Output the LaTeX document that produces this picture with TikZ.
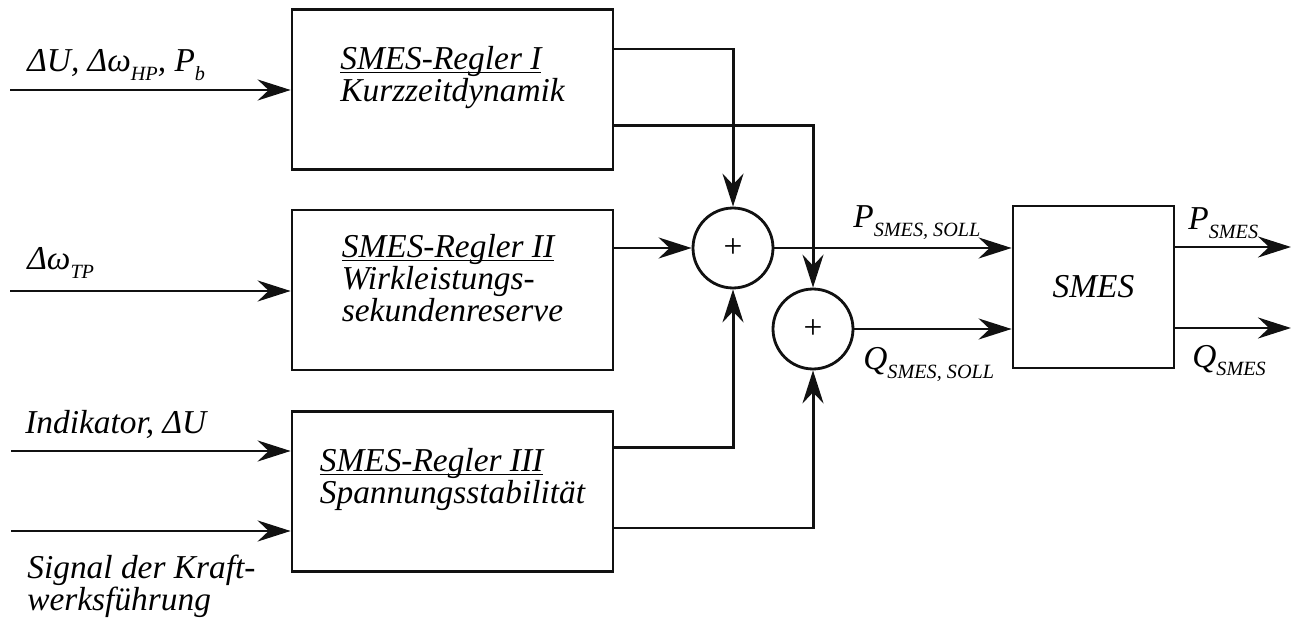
\documentclass[tikz,border=0pt]{standalone}
\usepackage{fontspec}
\setmainfont{Liberation Serif}[ItalicFont={Liberation Serif Italic}]
\usepackage{tikz}
\usetikzlibrary{arrows.meta,calc,positioning}
\definecolor{inkCol}{HTML}{111111}
\newcommand{\sbs}[1]{\raisebox{-5pt}{\fontsize{11.5}{12}\selectfont #1}}
\newcommand{\ttl}[1]{\underline{\smash{#1}}}
\tikzset{
  blk/.style={draw=inkCol, line width=1.6pt, minimum width=6.42cm, minimum height=3.2cm,
              align=left, inner sep=0pt},
  sumnode/.style={draw=inkCol, circle, line width=1.6pt, minimum size=1.6cm, inner sep=0pt,
                  font=\fontsize{19}{19}\selectfont\upshape},        % summing point
  sig/.style={-{Stealth[length=0.66cm,width=0.42cm,inset=0.22cm]}, line width=1.7pt, inkCol}, % signal
  lbl/.style={anchor=base west, inner sep=0pt, align=left},
}

\begin{document}
\begin{tikzpicture}[x=0.02cm, y=-0.02cm, font=\fontsize{19}{18.2}\selectfont\itshape]
  \useasboundingbox (0,0) rectangle (1292,618);
  % controllers and summing points
  \node[blk] (b1) at (452.5,89.5) {\ttl{SMES-Regler I}\\Kurzzeitdynamik};
  \node[blk] (b2) at (452.5,290) {\ttl{SMES-Regler II}\\Wirkleistungs-\\sekundenreserve};
  \node[blk] (b3) at (452.5,491.5) {\ttl{SMES-Regler III}\\Spannungsstabilität};
  \node[sumnode] (s1) at (733,248) {+};
  \node[sumnode] (s2) at (813,329) {+};
  \node[blk, minimum width=3.22cm, minimum height=3.24cm] (sm) at (1093.5,287) {SMES};

  % inputs
  \coordinate (i1) at (10,90);
  \coordinate (i2) at (10,291);
  \coordinate (i3) at (11,451);
  \coordinate (i4) at (11,531);
  \draw[sig] (i1) -- (i1-|b1.west);
  \draw[sig] (i2) -- (i2-|b2.west);
  \draw[sig] (i3) -- (i3-|b3.west);
  \draw[sig] (i4) -- (i4-|b3.west);
  \node[lbl] (l1) at (27,72) {ΔU, Δω\sbs{HP}, P\sbs{b}};
  \node[lbl] (l2) at (27,270) {Δω\sbs{TP}};
  \node[lbl] (l3) at (25,433) {Indikator, ΔU};
  \node[lbl] (l4) at (27,610) {Signal der Kraft-\\werksführung};

  % controller outputs
  \draw[sig] ([yshift=0.81cm]b1.east) -| (s1.north);
  \draw[sig] ([yshift=-0.73cm]b1.east) -| (s2.north);
  \draw[sig] (b2.east|-s1.west) -- (s1.west);
  \draw[sig] ([yshift=0.89cm]b3.east) -| (s1.south);
  \draw[sig] ([yshift=-0.73cm]b3.east) -| (s2.south);

  % set points and SMES outputs
  \draw[sig] (s1.east) -- (sm.west|-s1.east);
  \draw[sig] (s2.east) -- (sm.west|-s2.east);
  \coordinate (oP) at (1291,247);
  \coordinate (oQ) at (1291,328);
  \draw[sig] (sm.east|-oP) -- (oP);
  \draw[sig] (sm.east|-oQ) -- (oQ);
  \node[lbl] (lp) at (853,228) {P\sbs{SMES, SOLL}};
  \node[lbl] (lq) at (863,370) {Q\sbs{SMES, SOLL}};
  \node[lbl] (lpo) at (1188,230) {P\sbs{SMES}};
  \node[lbl] (lqo) at (1192,367) {Q\sbs{SMES}};
\end{tikzpicture}
\end{document}
